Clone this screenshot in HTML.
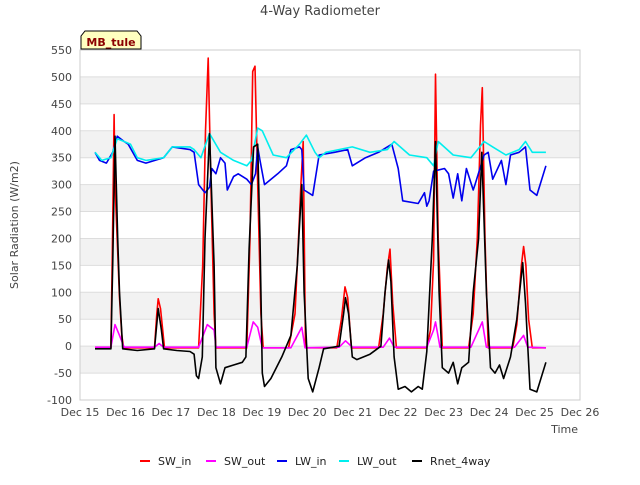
<!DOCTYPE html>
<html><head><meta charset="utf-8"><style>
body{margin:0;background:#fff;font-family:"Liberation Sans","DejaVu Sans",sans-serif}
svg text{font-family:"DejaVu Sans","Liberation Sans",sans-serif}
</style></head><body>
<svg id="c" width="640" height="480" xmlns="http://www.w3.org/2000/svg"></svg>
<script>
const yTicks=[-100,-50,0,50,100,150,200,250,300,350,400,450,500,550];
const xTickLabels=["Dec 15","Dec 16","Dec 17","Dec 18","Dec 19","Dec 20","Dec 21","Dec 22","Dec 23","Dec 24","Dec 25","Dec 26"];
const swInT=[0.33,0.68,0.71,0.75,0.77,0.83,0.87,0.92,0.96,1.64,1.69,1.72,1.77,1.82,1.86,2.61,2.70,2.76,2.82,2.88,2.95,2.99,3.67,3.74,3.80,3.85,3.91,3.98,4.03,4.59,4.73,4.83,4.86,4.91,4.96,5.31,5.65,5.75,5.83,5.89,5.97,6.57,6.67,6.76,6.82,6.88,6.96,7.63,7.71,7.78,7.82,7.88,7.97,8.55,8.65,8.74,8.81,8.85,8.91,8.98,9.52,9.61,9.71,9.76,9.81,9.87,9.95,10.25];
const swInV=[-3,-3,170,430,300,175,90,20,-3,-3,60,88,70,30,-3,-3,150,400,535,300,60,-3,-3,200,510,520,300,60,-3,-3,60,240,300,380,-3,-3,-3,50,110,90,-3,-3,60,145,180,80,-3,-3,30,160,505,200,-3,-3,60,200,410,480,200,-3,-3,40,150,185,150,50,-3,-3];
const swOutT=[0.33,0.68,0.77,0.87,0.97,1.64,1.74,1.84,2.61,2.8,2.95,2.99,3.67,3.81,3.91,4.01,4.64,4.88,4.95,5.7,5.84,5.99,6.67,6.81,6.91,7.63,7.78,7.82,7.92,8.6,8.85,8.94,9.56,9.76,9.85,10.25];
const swOutV=[-2,-2,40,20,-2,-2,5,-2,-2,40,30,-2,-2,45,35,-3,-3,35,-3,-2,10,-2,-2,15,-2,-2,30,45,-2,-2,45,-2,-2,20,-2,-3];
const lwInT=[0.33,0.43,0.58,0.72,0.82,0.97,1.06,1.26,1.45,1.84,2.03,2.42,2.51,2.61,2.75,2.85,2.9,2.99,3.09,3.19,3.24,3.38,3.48,3.67,3.77,3.86,3.91,3.96,4.06,4.35,4.54,4.64,4.83,4.88,4.93,5.12,5.26,5.6,5.89,5.99,6.28,6.57,6.86,7.0,7.1,7.44,7.58,7.63,7.68,7.78,8.02,8.11,8.21,8.31,8.4,8.5,8.65,8.69,8.89,8.98,9.08,9.27,9.37,9.47,9.66,9.8,9.9,10.05,10.25];
const lwInV=[360,345,340,360,390,380,375,345,340,350,370,365,360,300,285,295,330,320,350,340,290,315,320,310,300,320,370,345,300,320,335,365,370,365,290,280,355,360,365,335,350,360,375,330,270,265,285,260,270,325,330,320,275,320,270,330,290,300,355,360,310,345,300,355,360,370,290,280,335];
const lwOutT=[0.33,0.48,0.68,0.82,0.97,1.11,1.26,1.45,1.84,2.03,2.42,2.51,2.66,2.85,3.09,3.38,3.67,3.77,3.91,4.01,4.25,4.54,4.83,4.98,5.17,5.26,5.41,5.99,6.38,6.76,6.91,7.25,7.63,7.78,7.88,8.21,8.6,8.89,9.08,9.37,9.66,9.8,9.95,10.25];
const lwOutV=[360,345,350,385,380,375,350,345,350,370,370,365,350,395,360,345,335,345,405,400,355,350,375,392,360,350,360,370,360,365,380,355,350,335,380,355,350,380,370,355,365,380,360,360];
const rnetT=[0.33,0.68,0.72,0.77,0.83,0.87,0.94,1.26,1.64,1.72,1.79,1.84,2.13,2.42,2.51,2.56,2.61,2.69,2.75,2.85,2.95,2.99,3.09,3.19,3.38,3.57,3.65,3.72,3.82,3.91,3.96,4.01,4.06,4.2,4.44,4.64,4.78,4.88,4.93,5.02,5.12,5.26,5.36,5.7,5.8,5.84,5.91,5.99,6.09,6.38,6.62,6.71,6.79,6.84,6.91,7.0,7.15,7.29,7.44,7.53,7.63,7.75,7.82,7.9,7.97,8.11,8.21,8.31,8.4,8.55,8.65,8.77,8.84,8.94,9.03,9.13,9.23,9.32,9.47,9.61,9.74,9.8,9.9,10.05,10.25];
const rnetV=[-5,-5,150,390,200,100,-5,-8,-5,70,30,-5,-8,-10,-15,-55,-60,-20,200,395,150,-40,-70,-40,-35,-30,-20,180,370,375,200,-50,-75,-60,-20,20,150,300,100,-60,-85,-40,-5,0,60,90,60,-20,-25,-15,0,100,160,120,-20,-80,-75,-85,-75,-80,-10,200,380,100,-40,-50,-30,-70,-40,-30,100,200,360,100,-40,-50,-35,-60,-20,50,155,80,-80,-85,-30];

const L=80,R=580,T=50,B=400,NS="http://www.w3.org/2000/svg",svg=document.getElementById('c');
const xs=t=>L+t*(R-L)/11, ys=v=>B-(v+100)*(B-T)/650;
function mk(tag,a,p){const e=document.createElementNS(NS,tag);for(const k in a)e.setAttribute(k,a[k]);(p||svg).appendChild(e);return e;}
let e=mk('rect',{x:L,y:T,width:R-L,height:B-T,fill:'#fff'});

for(let i=0;i<yTicks.length-1;i++){if(i%2==1){e=mk('rect',{x:L,y:ys(yTicks[i+1]),width:R-L,height:ys(yTicks[i])-ys(yTicks[i+1]),fill:'#f2f2f2'});}}
yTicks.forEach(v=>{e=mk('line',{x1:L,x2:R,y1:ys(v),y2:ys(v),stroke:'#ddd'});
e=mk('text',{x:L-8,y:ys(v)+4,'text-anchor':'end','font-size':11,fill:'#444'});e.textContent=v;});
xTickLabels.forEach((s,i)=>{e=mk('text',{x:xs(i),y:B+16,'text-anchor':'middle','font-size':11,fill:'#444'});e.textContent=s;});
e=mk('rect',{x:L,y:T,width:R-L,height:B-T,fill:'none',stroke:'#ccc'});
const series=[['sw-in',swInT,swInV,'#ff0000'],['sw-out',swOutT,swOutV,'#ff00ff'],['lw-in',lwInT,lwInV,'#0000ee'],['lw-out',lwOutT,lwOutV,'#00eeee'],['rnet-4way',rnetT,rnetV,'#000000']];
series.forEach(s=>{const d=s[1].map((t,i)=>(i?'L':'M')+xs(t).toFixed(1)+' '+ys(s[2][i]).toFixed(1)).join('');
e=mk('path',{d:d,fill:'none',stroke:s[3],'stroke-width':1.6,'stroke-linejoin':'round'});});
e=mk('text',{x:320,y:15,'text-anchor':'middle','font-size':13,fill:'#444'});e.textContent='4-Way Radiometer';
e=mk('text',{x:18,y:225,'text-anchor':'middle','font-size':11,fill:'#444',transform:'rotate(-90 18 225)'});e.textContent='Solar Radiation (W/m2)';
e=mk('text',{x:578,y:433,'text-anchor':'end','font-size':11,fill:'#444'});e.textContent='Time';
const g=mk('g',{});
mk('path',{d:'M81 49 L81 36 L85 31 L137 31 L141 36 L141 49 Z',fill:'#ffffc0',stroke:'#000'},g);
e=mk('text',{x:111,y:46,'text-anchor':'middle','font-size':11,'font-weight':'bold',fill:'#8b0000'},g);e.textContent='MB_tule';
const leg=[['SW_in','#ff0000',140],['SW_out','#ff00ff',206],['LW_in','#0000ee',277],['LW_out','#00eeee',339],['Rnet_4way','#000000',412]];
leg.forEach(l=>{const lg=mk('g',{});
mk('line',{x1:l[2],x2:l[2]+10,y1:461,y2:461,stroke:l[1],'stroke-width':2},lg);
const t=mk('text',{x:l[2]+18,y:465,'font-size':11,fill:'#222'},lg);t.textContent=l[0];});
</script>
</body></html>
